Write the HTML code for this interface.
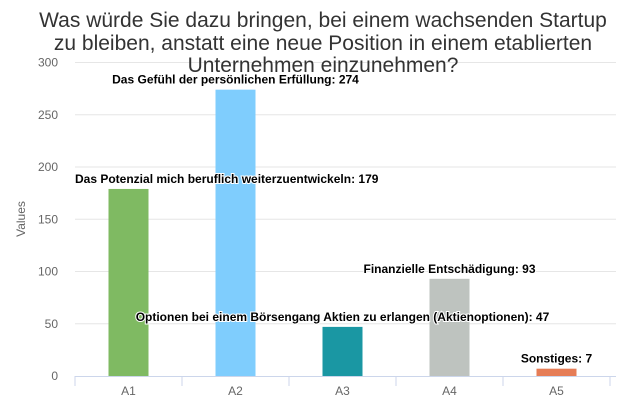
<!DOCTYPE html>
<html><head><meta charset="utf-8"><style>
body{margin:0;background:#fff;}
svg{display:block;font-family:"Liberation Sans","DejaVu Sans",sans-serif;}
</style></head><body>
<svg id="chart" width="620" height="413" viewBox="0 0 620 413" xmlns="http://www.w3.org/2000/svg">
<g id="grid"></g>
<g id="yticks"></g>
<text x="25" y="219" transform="rotate(-90 25 219)" text-anchor="middle" font-size="12" fill="#666">Values</text>
<g id="bars"></g>
<g id="xaxis"></g>
<g id="labels"></g>
<g font-size="21" fill="#333" text-anchor="middle">
<text x="323" y="27">Was würde Sie dazu bringen, bei einem wachsenden Startup</text>
<text x="323" y="50">zu bleiben, anstatt eine neue Position in einem etablierten</text>
<text x="323" y="72">Unternehmen einzunehmen?</text>
</g>
</svg>
<script>
const categories=["A1","A2","A3","A4","A5"];
const values=[179,274,47,93,7];
const names=["Das Potenzial mich beruflich weiterzuentwickeln","Das Gefühl der persönlichen Erfüllung","Optionen bei einem Börsengang Aktien zu erlangen (Aktienoptionen)","Finanzielle Entschädigung","Sonstiges"];
const colors=["#7fba62","#7fcdfd","#1a97a3","#bec3bf","#e67d56"];
const yTicks=[0,50,100,150,200,250,300];
const NS="http://www.w3.org/2000/svg";
const x0=75,x1=610,yBase=376,yTop=62.5,yMax=300;
const band=(x1-x0)/categories.length;
function y(v){return yBase-(v/yMax)*(yBase-yTop);}
function xc(i){return x0+band*(i+0.5);}
function mk(tag,attrs,parent){const e=document.createElementNS(NS,tag);for(const k in attrs)e.setAttribute(k,attrs[k]);parent.appendChild(e);return e;}
const grid=document.getElementById('grid'),yt=document.getElementById('yticks');
yTicks.forEach(t=>{
  if(t>0){const l=mk('line',{x1:x0,x2:616,y1:y(t),y2:y(t),stroke:'#e6e6e6'},grid);
  
  }
  const tx=mk('text',{x:58,y:y(t)+4,'text-anchor':'end','font-size':12,fill:'#666'},yt);
  
  
  tx.textContent=t;
});
const bars=document.getElementById('bars'),xa=document.getElementById('xaxis'),lb=document.getElementById('labels');
const al=mk('line',{x1:x0,x2:616,y1:yBase+0.5,y2:yBase+0.5,stroke:'#ccd6eb'},xa);


for(let i=0;i<=categories.length;i++){
  const tk=mk('line',{x1:x0+band*i,x2:x0+band*i,y1:yBase,y2:yBase+10,stroke:'#ccd6eb'},xa);
  
  
}
categories.forEach((c,i)=>{
  const w=40;
  const r=mk('rect',{x:xc(i)-w/2,y:y(values[i]),width:w,height:yBase-y(values[i]),fill:colors[i]},bars);
  
  
  const t=mk('text',{x:xc(i),y:yBase+19,'text-anchor':'middle','font-size':12,fill:'#666'},xa);
  
  
  t.textContent=c;
  const d=mk('text',{x:xc(i),y:y(values[i])-6,'text-anchor':'middle','font-size':12,'font-weight':'bold',fill:'#000',stroke:'#fff','stroke-width':2,'paint-order':'stroke'},lb);
  
  
  d.textContent=names[i]+': '+values[i];
  const len=d.getComputedTextLength();
  if(xc(i)-len/2<x0){d.setAttribute('text-anchor','start');d.setAttribute('x',x0);}
  else if(xc(i)+len/2>616){d.setAttribute('text-anchor','end');d.setAttribute('x',616);}
});
</script>
</body></html>
